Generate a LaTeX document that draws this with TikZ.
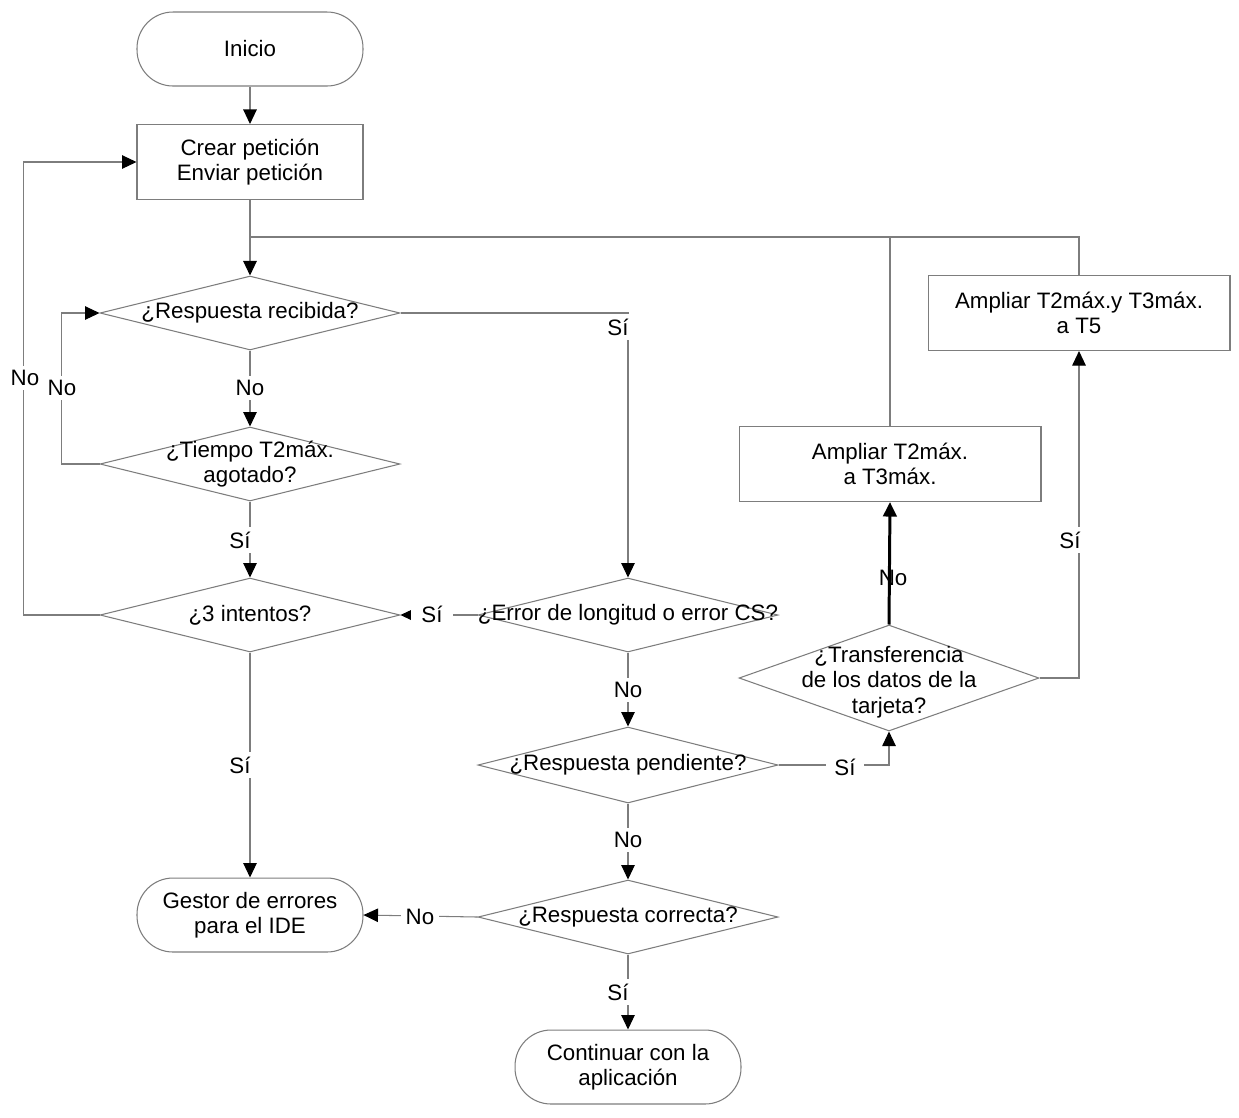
\documentclass[tikz,border=0pt]{standalone}
\usepackage{fontspec}
\setmainfont{Liberation Sans}
\usetikzlibrary{shapes.geometric,arrows.meta}
\definecolor{ln}{RGB}{125,125,125}
\begin{document}
\begin{tikzpicture}[x=0.02cm,y=-0.02cm,
  txt/.style={font=\fontsize{12.7}{14.4}\selectfont, align=center},
  term/.style={draw=ln, line width=0.6pt, rounded corners=0.72cm, minimum width=4.52cm, minimum height=1.48cm, inner sep=0, txt},
  proc/.style={draw=ln, line width=0.6pt, minimum width=6.04cm, minimum height=1.5cm, inner sep=0, txt},
  dec/.style={draw=ln, line width=0.6pt, diamond, minimum width=6cm, minimum height=1.48cm, inner sep=0},
  conn/.style={draw=ln, line width=0.6pt},
  arr/.style={conn, -{Triangle[length=0.29cm,width=0.27cm,black]}},
  lbl/.style={txt, fill=white, inner sep=2.5pt}
]
\useasboundingbox (0,0) rectangle (1239,1117);

% nodes
\node[term] (inicio) at (250,49) {Inicio};
\node[proc, minimum width=4.52cm] (crear) at (250,162) {Crear petición\\Enviar petición};
\node[dec, label={[txt,name=respT]center:¿Respuesta recibida?}] (resp) at (250,313) {};
\node[dec, label={[txt,name=tiempoT]center:¿Tiempo T2máx.\\agotado?}] (tiempo) at (250,464) {};
\node[dec, label={[txt,name=intT]center:¿3 intentos?}] (intentos) at (250,615) {};
\node[term] (gestor) at (250,915) {Gestor de errores\\para el IDE};
\node[dec, label={[txt,name=errT]center:¿Error de longitud o error CS?}] (err) at (628,615) {};
\node[dec, minimum height=1.52cm, label={[txt,name=pendT]center:¿Respuesta pendiente?}] (pend) at (628,765) {};
\node[dec, label={[txt,name=corrT]center:¿Respuesta correcta?}] (corr) at (628,917) {};
\node[term] (cont) at (628,1067) {Continuar con la\\aplicación};
\node[dec, minimum height=2.12cm] (trans) at (889,678) {};
\node[txt] (transT) at (889,682) {¿Transferencia\\de los datos de la\\tarjeta?};
\node[proc] (amp1) at (890,464) {Ampliar T2máx.\\a T3máx.};
\node[proc] (amp2) at (1079,313) {Ampliar T2máx.y T3máx.\\a T5};

\coordinate (j1) at (250,237);

% connectors
\draw[arr] (inicio) -- (crear);
\draw[arr] (crear) -- (resp);
\draw[conn] (j1) -| (amp2.north);
\draw[conn] (amp1.north) -- (amp1.north |- j1);
\draw[arr] (resp.east) -| (err.north);
\draw[arr] (resp) -- (tiempo);
\draw[arr] (tiempo.west) -- ++(-38,0) |- (resp.west);
\draw[arr] (tiempo) -- (intentos);
\draw[arr] (intentos.west) -- ++(-76,0) |- (crear.west);
\draw[arr] (intentos) -- (gestor);
\draw[arr] (err.west) -- (intentos.east);
\draw[arr] (err) -- (pend);
\draw[arr] (pend.east) -| (trans.south);
\draw[line width=1.7pt, black, -{Triangle[length=0.29cm,width=0.27cm]}] (trans.north) -- (amp1.south);
\draw[arr] (trans.east) -| (amp2.south);
\draw[arr] (pend) -- (corr);
\draw[arr] (corr.west) -- (gestor.east);
\draw[arr] (corr) -- (cont);

% labels
\node[lbl] (s1) at (618,327) {Sí};
\node[lbl] (n1) at (250,388) {No};
\node[lbl] (n2) at (62,388) {No};
\node[lbl] (n3) at (25,378) {No};
\node[lbl] (s2) at (240,540) {Sí};
\node[lbl] (s3) at (240,765) {Sí};
\node[lbl, inner xsep=6pt] (s4) at (432,614) {Sí};
\node[lbl] (n4) at (628,690) {No};
\node[lbl] (n5) at (628,840) {No};
\node[lbl] (s5) at (618,992) {Sí};
\node[lbl, inner xsep=5pt] (s6) at (845,767) {Sí};
\node[txt, inner sep=0] (n6) at (893,578) {No};
\node[lbl] (s7) at (1070,540) {Sí};
\node[lbl] (n7) at (420,917) {No};
\end{tikzpicture}
\end{document}
